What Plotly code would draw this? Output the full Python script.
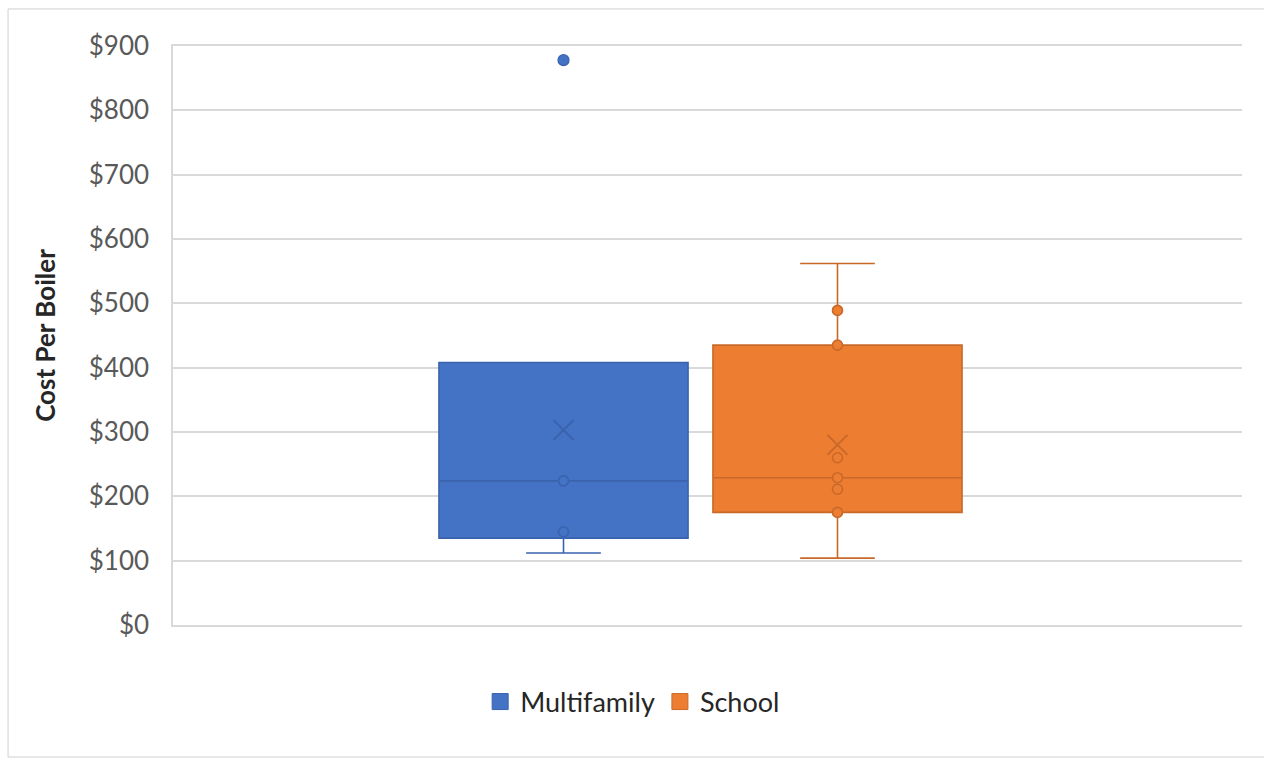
import plotly.graph_objects as go

# Box-and-whisker summary per building type (cost per boiler, USD)
series = ["Multifamily", "School"]
fill_colors = ["#4472C4", "#ED7D31"]
edge_colors = ["#3A63AE", "#C8692A"]

q1 = [135, 175]
median = [224, 229]
q3 = [408, 435]
lower_whisker = [112, 104]
upper_whisker = [408, 562]
mean = [303, 280]

# Individual observations drawn on top of each box
inner_points = [[224, 145], [489, 435, 260, 229, 211, 175]]
outlier_points = [[878], []]

tick_values = [0, 100, 200, 300, 400, 500, 600, 700, 800, 900]
tick_labels = ["$" + str(v) for v in tick_values]

# horizontal placement of the two boxes on a unit x-axis
box_centers = [0.3653, 0.6216]
box_width = 0.233

FONT = "Lato"

fig = go.Figure()

for i, name in enumerate(series):
    fig.add_trace(go.Box(
        x=[box_centers[i]],
        q1=[q1[i]], median=[median[i]], q3=[q3[i]],
        lowerfence=[lower_whisker[i]], upperfence=[upper_whisker[i]],
        width=box_width, whiskerwidth=0.3,
        fillcolor=fill_colors[i],
        line=dict(color=edge_colors[i], width=1.6),
        boxpoints=False, name=name, showlegend=False, hoverinfo="skip",
    ))

for i, name in enumerate(series):
    fig.add_trace(go.Scatter(
        x=[box_centers[i]] * len(inner_points[i]), y=inner_points[i], mode="markers",
        marker=dict(symbol="circle", size=10, color=fill_colors[i],
                    line=dict(color=edge_colors[i], width=1.6)),
        showlegend=False, hoverinfo="skip",
    ))
    if outlier_points[i]:
        fig.add_trace(go.Scatter(
            x=[box_centers[i]] * len(outlier_points[i]), y=outlier_points[i], mode="markers",
            marker=dict(symbol="circle", size=11, color=fill_colors[i],
                        line=dict(color=edge_colors[i], width=1.2)),
            showlegend=False, hoverinfo="skip",
        ))
    fig.add_trace(go.Scatter(
        x=[box_centers[i]], y=[mean[i]], mode="markers",
        marker=dict(symbol="x-thin", size=20,
                    line=dict(color=edge_colors[i], width=2)),
        showlegend=False, hoverinfo="skip",
    ))

# legend entries
for i, name in enumerate(series):
    fig.add_trace(go.Scatter(
        x=[None], y=[None], mode="markers", name=name,
        marker=dict(symbol="square", size=22, color=fill_colors[i],
                    line=dict(color=edge_colors[i], width=1)),
    ))

fig.update_layout(
    width=1264, height=759,
    margin=dict(l=173, r=22, t=46, b=134),
    paper_bgcolor="white", plot_bgcolor="white",
    font=dict(family=FONT, size=26, color="#595959"),
    showlegend=True,
    legend=dict(orientation="h", x=0.43, xanchor="center", y=-0.133, yanchor="middle",
                font=dict(family=FONT, size=27, color="#262626"),
                itemsizing="trace", itemwidth=30, traceorder="normal"),
    xaxis=dict(range=[0, 1], showticklabels=False, showgrid=False, zeroline=False,
               showline=True, mirror=True, linecolor="#D9D9D9", linewidth=1.5,
               ticks="", fixedrange=True),
    yaxis=dict(range=[0, 900], tickmode="array", tickvals=tick_values, ticktext=tick_labels,
               showgrid=True, gridcolor="#D9D9D9", gridwidth=1.5,
               zeroline=False, showline=True, linecolor="#D9D9D9", linewidth=1.5,
               ticks="", ticklabelstandoff=17,
               tickfont=dict(family=FONT, size=26, color="#595959"),
               title=dict(text="<b>Cost Per Boiler</b>", standoff=26,
                          font=dict(family=FONT, size=26, color="#262626"))),
    shapes=[dict(type="rect", xref="paper", yref="paper",
                 x0=-0.1543, x1=1.03, y0=-0.228, y1=1.064,
                 line=dict(color="#D0D0D0", width=1), fillcolor="rgba(0,0,0,0)",
                 layer="below")],
)

fig.write_html("out.html")
